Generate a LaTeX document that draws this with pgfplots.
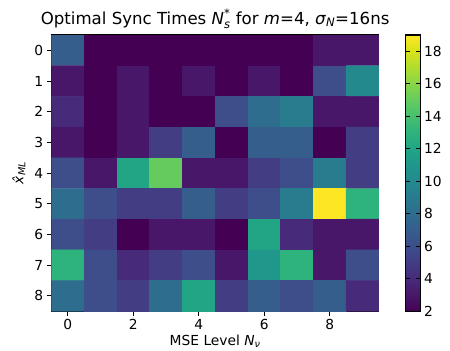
\documentclass[border={9pt 0pt 5pt 6pt}]{standalone}
\usepackage{amsmath}
\usepackage{fontspec}
\setmainfont{DejaVu Sans}
\usepackage{pgfplots}
\pgfplotsset{compat=1.18}
\begin{document}
\begin{tikzpicture}
\begin{axis}[
  scale only axis,
  width=329.5pt, height=278pt,
  xmin=-0.5, xmax=9.5, ymin=-0.5, ymax=8.5,
  y dir=reverse,
  xtick={0,2,4,6,8},
  ytick={0,1,...,8},
  tick align=outside,
  tick pos=left,
  major tick length=4.9pt,
  tick style={black, line width=1.1pt},
  axis line style={line width=1.1pt},
  ticklabel style={font=\fontsize{13.9}{16}\selectfont},
  /pgf/number format/assume math mode=true,
  xlabel={MSE Level \textit{N}$_{\textit{ν}}$},
  ylabel={\textit{\^{x}}$_{\textit{ML}}$},
  label style={font=\fontsize{13.9}{16}\selectfont},
  ylabel style={yshift=2pt},
  xlabel style={yshift=2pt},
  title={Optimal Sync Times \textit{N}$^{\text{*}}_{\textit{s}}$ for \textit{m}=4, \textit{σ}$_{\textit{N}}$=16ns},
  title style={font=\fontsize{16.7}{19}\selectfont, yshift=-3pt},
  colormap/viridis,
  point meta min=2, point meta max=19,
  colorbar,
  colorbar style={
    at={(parent axis.north east)}, anchor=north west, xshift=18pt,
    width=15.5pt, height=278pt,
    ytick={2,4,...,18},
    major tick length=4.9pt,
    tick style={black, line width=1.1pt},
    ticklabel style={font=\fontsize{13.9}{16}\selectfont},
    /pgf/number format/assume math mode=true,
    axis line style={line width=1.1pt},
  },
]
\addplot[matrix plot*, mesh/cols=10, point meta=explicit, shader=flat corner] table[meta=v] {
x y v
0 0 7
1 0 2
2 0 2
3 0 2
4 0 2
5 0 2
6 0 2
7 0 2
8 0 3
9 0 3
0 1 3
1 1 2
2 1 3
3 1 2
4 1 3
5 1 2
6 1 3
7 1 2
8 1 6
9 1 10
0 2 4
1 2 2
2 2 3
3 2 2
4 2 2
5 2 6
6 2 8
7 2 9
8 2 3
9 2 3
0 3 3
1 3 2
2 3 3
3 3 5
4 3 7
5 3 2
6 3 7
7 3 7
8 3 2
9 3 5
0 4 6
1 4 3
2 4 12
3 4 15
4 4 3
5 4 3
6 4 5
7 4 6
8 4 9
9 4 5
0 5 8
1 5 6
2 5 5
3 5 5
4 5 7
5 5 5
6 5 6
7 5 9
8 5 19
9 5 13
0 6 6
1 6 5
2 6 2
3 6 3
4 6 3
5 6 2
6 6 12
7 6 4
8 6 3
9 6 3
0 7 13
1 7 6
2 7 4
3 7 5
4 7 6
5 7 3
6 7 11
7 7 13
8 7 3
9 7 6
0 8 8
1 8 6
2 8 5
3 8 8
4 8 12
5 8 5
6 8 7
7 8 6
8 8 7
9 8 4
};
\end{axis}
\end{tikzpicture}
\end{document}
